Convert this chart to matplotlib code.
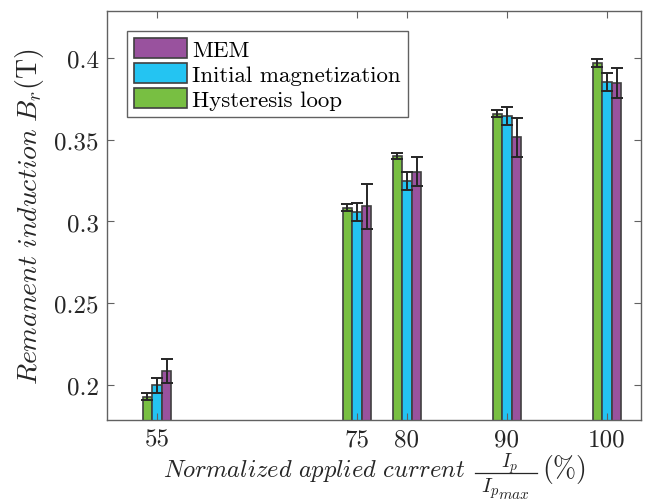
import matplotlib
matplotlib.use("Agg")
import matplotlib.pyplot as plt
from matplotlib.lines import Line2D
import numpy as np

currents = [55, 75, 80, 90, 100]
tick_labels = ["55", "75", "80", "90", "100"]
hyst = [0.1928, 0.3084, 0.3400, 0.3659, 0.3969]
hyst_err = [0.0020, 0.0020, 0.0020, 0.0023, 0.0025]
init = [0.1998, 0.3056, 0.3250, 0.3643, 0.3853]
init_err = [0.0047, 0.0056, 0.0055, 0.0055, 0.0056]
mem = [0.2086, 0.3093, 0.3305, 0.3515, 0.3847]
mem_err = [0.0072, 0.0138, 0.0090, 0.0120, 0.0090]

plt.rcParams['font.family'] = ['cmr10']
plt.rcParams['mathtext.fontset'] = 'cm'
plt.rcParams['axes.formatter.use_mathtext'] = True

W, H = 665, 502
fig = plt.figure(figsize=(W / 100, H / 100), dpi=100)
ax = fig.add_axes([0.1609, 0.1614, 0.8030, 0.8147])


def fx(px):
    return px / W


def fy(py_top):
    return (H - py_top) / H


x = np.array(currents, dtype=float)
off = 0.97
w = 0.93
green = (0.47, 0.75, 0.26)
blue = (0.14, 0.77, 0.95)
purple = (0.60, 0.32, 0.62)
edge = (0.25, 0.25, 0.25)
ecol = (0.15, 0.15, 0.15)
txtcol = (0.15, 0.15, 0.15)
ekw = dict(elinewidth=1.4, capthick=1.4, ecolor=ecol)

b1 = ax.bar(x - off, hyst, w, color=green, edgecolor=edge, linewidth=1.2,
            yerr=hyst_err, capsize=4, error_kw=ekw, label='Hysteresis loop')
b2 = ax.bar(x, init, w, color=blue, edgecolor=edge, linewidth=1.2,
            yerr=init_err, capsize=4, error_kw=ekw, label='Initial magnetization')
b3 = ax.bar(x + off, mem, w, color=purple, edgecolor=edge, linewidth=1.2,
            yerr=mem_err, capsize=4, error_kw=ekw, label='MEM')

ax.set_xlim(50, 103.4)
ax.set_ylim(0.1786, 0.4287)
ax.set_xticks(currents)
ax.set_xticklabels(tick_labels)
ax.set_yticks([0.2, 0.25, 0.3, 0.35, 0.4])
ax.set_yticklabels(["0.2", "0.25", "0.3", "0.35", "0.4"])

axcol = (0.38, 0.38, 0.38)
for s in ax.spines.values():
    s.set_color(axcol)
    s.set_linewidth(1.0)
ax.tick_params(direction='in', length=5, width=0.8, color=axcol,
               labelsize=18, labelcolor=txtcol,
               top=True, right=True, pad=6)

ax.set_ylabel(r'$Remanent\ induction\ B_r$(T)', fontsize=20,
              color=txtcol, labelpad=6)

# x label composed of pieces (text, fraction, unit)
fig.text(fx(163), fy(477), r'$Normalized\ applied\ current$', fontsize=17.6,
         color=txtcol, ha='left', va='baseline')
# fraction I_p / I_{p_max}
fig.text(fx(510), fy(468), r'$I_p$', fontsize=14,
         color=txtcol, ha='center', va='baseline')
fig.add_artist(Line2D([fx(475), fx(537)], [fy(474), fy(474)],
                      transform=fig.transFigure, color=txtcol, lw=0.9))
fig.text(fx(481), fy(492), r'$I_p$', fontsize=15,
         color=txtcol, ha='left', va='baseline')
fig.text(fx(498), fy(499), r'$max$', fontsize=11,
         color=txtcol, ha='left', va='baseline')
fig.text(fx(542), fy(477), r'$(\%)$', fontsize=20,
         color=txtcol, ha='left', va='baseline')

handles = [b3, b2, b1]
labels = ['MEM', 'Initial magnetization', 'Hysteresis loop']
leg = ax.legend(handles, labels, loc='upper left', bbox_to_anchor=(0.0375, 0.951),
                fontsize=16.5, frameon=True, fancybox=False, framealpha=1,
                edgecolor=axcol, handlelength=2.3, handleheight=1.0,
                handletextpad=0.25, labelspacing=0.12, borderpad=0.3,
                borderaxespad=0.0)
leg.get_frame().set_linewidth(1.0)

fig.savefig('out.png', dpi=100)
